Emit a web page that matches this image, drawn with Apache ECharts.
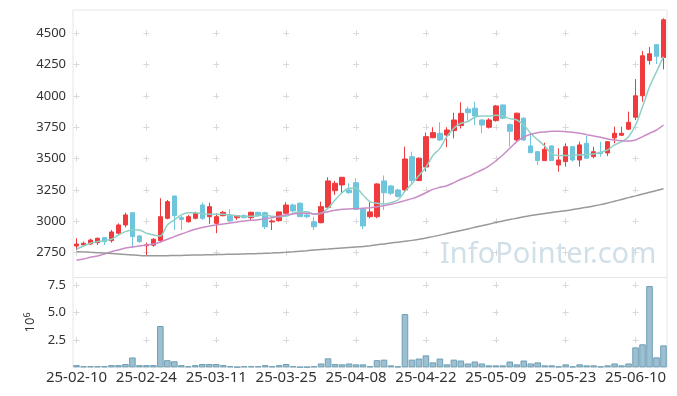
<!DOCTYPE html>
<html>
<head>
<meta charset="utf-8">
<script src="https://cdn.jsdelivr.net/npm/echarts@6/dist/echarts.min.js"></script>
<style>
html,body{margin:0;padding:0;background:#fff;}
#chart{width:677px;height:396px;}
</style>
</head>
<body>
<div id="chart"></div>
<script>
// ---- categories (trading days) ----
const dates = [
'25-02-10','25-02-11','25-02-12','25-02-13','25-02-14','25-02-17','25-02-18','25-02-19','25-02-20','25-02-21',
'25-02-24','25-02-25','25-02-26','25-02-27','25-02-28','25-03-04','25-03-05','25-03-06','25-03-07','25-03-10',
'25-03-11','25-03-12','25-03-13','25-03-14','25-03-17','25-03-18','25-03-19','25-03-20','25-03-21','25-03-24',
'25-03-25','25-03-26','25-03-27','25-03-28','25-03-31','25-04-01','25-04-02','25-04-03','25-04-04','25-04-07',
'25-04-08','25-04-09','25-04-10','25-04-11','25-04-14','25-04-15','25-04-16','25-04-17','25-04-18','25-04-21',
'25-04-22','25-04-23','25-04-24','25-04-25','25-04-28','25-04-29','25-04-30','25-05-02','25-05-07','25-05-08',
'25-05-09','25-05-12','25-05-13','25-05-14','25-05-15','25-05-16','25-05-19','25-05-20','25-05-21','25-05-22',
'25-05-23','25-05-26','25-05-27','25-05-28','25-05-29','25-05-30','25-06-02','25-06-04','25-06-05','25-06-09',
'25-06-10','25-06-11','25-06-12','25-06-13','25-06-16'];

// ---- OHLC ----
const openP  = [2803,2812,2819,2830,2870,2846,2905,2971,3069,2883, 2805,2810,2846,3024,3202,3030,2997,3024,3130,3037,
                2984,3045,3051,3029,3045,3029,3072,3069,2995,3005, 3064,3130,3144,3051,2997,2989,3112,3244,3290,3250,
                3308,3096,3037,3037,3322,3282,3250,3250,3515,3325, 3433,3667,3702,3688,3723,3763,3895,3902,3808,3750,
                3803,3928,3771,3649,3822,3601,3555,3484,3601,3449, 3476,3595,3489,3622,3516,3550,3545,3665,3686,3735,
                3830,4001,4283,4409,4306];
const closeP = [2819,2825,2851,2865,2838,2915,2971,3051,2878,2838, 2812,2857,3037,3157,3045,3015,3037,3064,3024,3117,
                3037,3072,3003,3045,3029,3072,3045,2957,3003,3075, 3130,3083,3037,3037,2957,3117,3322,3303,3351,3228,
                3096,2963,3075,3298,3228,3224,3197,3497,3325,3503, 3675,3707,3649,3728,3808,3861,3866,3840,3768,3808,
                3920,3822,3718,3862,3649,3547,3484,3575,3484,3489, 3595,3489,3609,3503,3555,3540,3635,3702,3702,3789,
                4001,4320,4336,4316,4607];
const lowP   = [2771,2800,2811,2811,2811,2830,2891,2952,2785,2830, 2732,2798,2830,3016,2931,2931,2989,3016,3011,2979,
                2905,3040,2997,3011,3024,3011,3037,2939,2931,2997, 3056,3072,3037,3024,2931,2984,3112,3210,3224,3220,
                3090,2939,3024,3024,3090,3210,3190,3240,3303,3320, 3396,3662,3640,3591,3662,3740,3803,3768,3702,3740,
                3795,3815,3596,3640,3640,3547,3449,3484,3484,3396, 3436,3476,3436,3500,3503,3516,3520,3622,3681,3728,
                3808,3954,4250,4255,4212];
const highP  = [2865,2838,2862,2870,2872,2931,2984,3069,3069,2891, 2830,2865,3184,3170,3202,3045,3051,3077,3149,3149,
                3064,3083,3096,3051,3056,3077,3077,3077,3016,3077, 3152,3141,3152,3069,3037,3157,3351,3322,3351,3303,
                3343,3096,3152,3303,3365,3290,3260,3595,3555,3510, 3707,3750,3790,3750,3866,3949,3915,3954,3815,3822,
                3928,3930,3780,3866,3830,3702,3560,3627,3605,3582, 3622,3600,3635,3681,3595,3635,3640,3755,3755,3875,
                4134,4358,4390,4409,4619];

// ---- moving averages ----
const ma5 = [2777,2803,2825,2838,2846,2857,2891,2918,2931,2931, 2905,2891,2883,2971,3011,3051,3069,3069,3059,3056,
             3056,3056,3051,3045,3037,3040,3045,3051,3040,3037, 3040,3064,3077,3077,3056,3064,3104,3170,3228,3263,
             3263,3210,3157,3144,3138,3149,3170,3240,3300,3365, 3430,3525,3582,3675,3742,3782,3795,3830,3840,3840,
             3845,3840,3819,3808,3768,3702,3649,3600,3537,3524, 3524,3527,3529,3532,3537,3550,3569,3609,3635,3675,
             3768,3914,4073,4193,4313];
const ma20 = [2689,2700,2713,2724,2740,2758,2772,2787,2795,2803, 2811,2819,2835,2857,2878,2899,2918,2937,2950,2963,
              2971,2979,2987,2995,3003,3008,3013,3021,3029,3040, 3051,3059,3064,3064,3059,3064,3077,3088,3096,3099,
              3101,3104,3109,3117,3125,3136,3149,3165,3181,3202, 3228,3255,3271,3284,3308,3335,3356,3383,3409,3441,
              3481,3529,3582,3635,3672,3694,3707,3713,3718,3718, 3715,3710,3702,3691,3681,3670,3657,3649,3643,3641,
              3649,3675,3702,3728,3768];
const ma120 = [2758,2756,2753,2750,2747,2744,2740,2736,2732,2728, 2726,2725,2725,2726,2727,2728,2730,2731,2732,2733,
               2735,2736,2737,2738,2740,2741,2743,2745,2747,2750, 2753,2757,2762,2766,2771,2775,2779,2784,2788,2792,
               2796,2800,2806,2813,2820,2827,2834,2841,2848,2857, 2867,2878,2890,2902,2914,2926,2939,2952,2964,2977,
               2990,3002,3014,3025,3036,3046,3055,3063,3071,3078, 3085,3094,3103,3112,3122,3133,3146,3160,3174,3189,
               3203,3217,3231,3245,3260];

// ---- volume (x 10^6) ----
const volume = [0.2,0.1,0.1,0.1,0.1,0.2,0.2,0.3,0.9,0.2, 0.2,0.2,3.77,0.65,0.55,0.2,0.1,0.2,0.3,0.3,
                0.3,0.2,0.1,0.03,0.1,0.1,0.1,0.2,0.1,0.2, 0.3,0.1,0.03,0.03,0.1,0.35,0.82,0.3,0.27,0.35,
                0.27,0.27,0.1,0.65,0.7,0.18,0.08,4.86,0.7,0.8, 1.09,0.45,0.8,0.27,0.7,0.62,0.35,0.53,0.35,0.18,
                0.18,0.18,0.53,0.27,0.62,0.35,0.45,0.18,0.18,0.08, 0.27,0.08,0.27,0.18,0.18,0.08,0.18,0.35,0.18,0.35,
                1.82,2.1,7.42,0.91,2.0];

// ---- tick labels ----
const priceTicks = [2750,3000,3250,3500,3750,4000,4250,4500];
const volumeTicks = [2.5,5.0,7.5];

// ---- layout ----
const GL = 73, GR = 10, GT = 10, H1 = 267.5, H2 = 89.8;
const W = 677 - GL - GR;
const PMIN = 2552, PMAX = 4685, VMAX = 8.2;
const N = dates.length;
const CROSS = 6;

function dashFor(positions, total) {
  const arr = [0];
  let cur = 0;
  positions.forEach(p => {
    const s = p - CROSS / 2;
    arr.push(Math.max(0, s - cur));
    arr.push(CROSS);
    cur = s + CROSS;
  });
  arr.push(Math.max(10, total - cur + 10));
  return arr;
}
const priceRel = priceTicks.slice().sort((a,b)=>b-a).map(p => (PMAX - p) / (PMAX - PMIN) * H1);
const volRel = volumeTicks.slice().sort((a,b)=>b-a).map(v => (VMAX - v) / VMAX * H2);
const catRel = [];
for (let k = 0; k < N; k += 10) catRel.push((k + 0.5) * W / N);

const candleData = dates.map((d, i) => [openP[i], closeP[i], lowP[i], highP[i]]);

const crossColor = '#d9d9d9';
const font = '"Noto Sans", "DejaVu Sans", sans-serif';

const chart = echarts.init(document.getElementById('chart'), null, {renderer: 'canvas'});
chart.setOption({
  animation: false,
  backgroundColor: '#fff',
  grid: [
    {left: GL, right: GR, top: GT, height: H1, show: true, borderColor: '#e6e6e6', borderWidth: 1, backgroundColor: 'transparent'},
    {left: GL, right: GR, top: GT + H1, height: H2, show: true, borderColor: '#e6e6e6', borderWidth: 1, backgroundColor: 'transparent'}
  ],
  xAxis: [
    {type: 'category', gridIndex: 0, data: dates, boundaryGap: true,
     axisLine: {show: false}, axisTick: {show: false}, axisLabel: {show: false},
     splitLine: {show: true, interval: 9, alignWithLabel: true,
       lineStyle: {color: crossColor, width: 1, type: dashFor(priceRel, H1)}}},
    {type: 'category', gridIndex: 1, data: dates, boundaryGap: true,
     axisLine: {show: false}, axisTick: {show: false},
     axisLabel: {show: true, interval: 9, color: '#333', fontSize: 15, fontFamily: font, margin: 3},
     splitLine: {show: true, interval: 9, alignWithLabel: true,
       lineStyle: {color: crossColor, width: 1, type: dashFor(volRel, H2)}}}
  ],
  yAxis: [
    {type: 'value', gridIndex: 0, min: PMIN, max: PMAX, scale: true,
     axisLine: {show: false}, axisTick: {show: false, customValues: priceTicks},
     axisLabel: {color: '#333', fontSize: 13, fontFamily: font, margin: 7, customValues: priceTicks,
       formatter: v => String(Math.round(v))},
     splitLine: {show: true, lineStyle: {color: crossColor, width: 1, type: dashFor(catRel, W)}}},
    {type: 'value', gridIndex: 1, min: 0, max: VMAX,
     name: '10{sup|6}', nameLocation: 'middle', nameGap: 32, nameRotate: 90,
     nameTextStyle: {color: '#333', fontSize: 13, fontFamily: font,
       rich: {sup: {fontSize: 9, fontFamily: font, color: '#333', verticalAlign: 'top', padding: [0,0,6,0]}}},
     axisLine: {show: false}, axisTick: {show: false, customValues: volumeTicks},
     axisLabel: {color: '#333', fontSize: 13, fontFamily: font, margin: 7, customValues: volumeTicks,
       formatter: v => Number(v).toFixed(1)},
     splitLine: {show: true, lineStyle: {color: crossColor, width: 1, type: dashFor(catRel, W)}}}
  ],
  graphic: [
    {type: 'text', left: 440, top: 240, z: 0, silent: true,
     style: {text: 'InfoPointer.com', font: '29px "Noto Sans", sans-serif', fill: '#d0dfe8'}}
  ],
  series: [
    {type: 'candlestick', name: 'price', xAxisIndex: 0, yAxisIndex: 0, data: candleData, barWidth: 5,
     itemStyle: {color: '#ef3a3e', color0: '#6ec5dc', borderColor: '#ef3a3e', borderColor0: '#6ec5dc', borderWidth: 1}},
    {type: 'line', name: 'MA5', xAxisIndex: 0, yAxisIndex: 0, data: ma5, showSymbol: false, smooth: 0.3,
     lineStyle: {color: '#8fd0c6', width: 1.5}},
    {type: 'line', name: 'MA20', xAxisIndex: 0, yAxisIndex: 0, data: ma20, showSymbol: false, smooth: 0.3,
     lineStyle: {color: '#c98cc6', width: 1.5}},
    {type: 'line', name: 'MA120', xAxisIndex: 0, yAxisIndex: 0, data: ma120, showSymbol: false, smooth: 0.3,
     lineStyle: {color: '#999999', width: 1.5}},
    {type: 'bar', name: 'volume', xAxisIndex: 1, yAxisIndex: 1, data: volume, barWidth: '94%',
     itemStyle: {color: '#9cc0d1', borderColor: '#6f9fb5', borderWidth: 1}}
  ]
});
</script>
</body>
</html>
